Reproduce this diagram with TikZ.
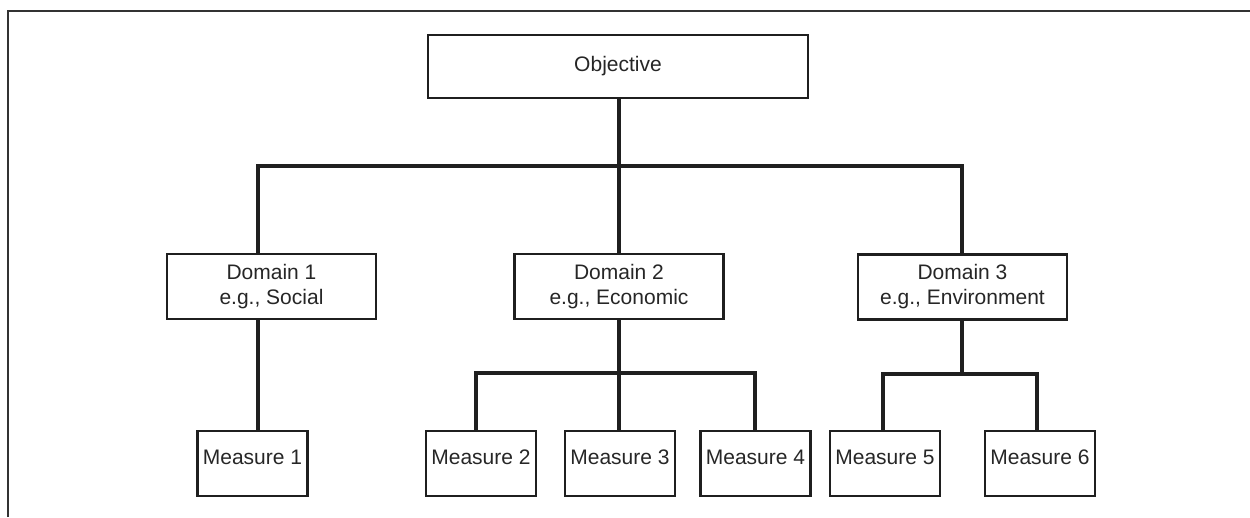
\documentclass[tikz,border=0pt]{standalone}
\usepackage{fontspec}
\setmainfont{Liberation Sans}
\begin{document}
\begin{tikzpicture}[x=1pt,y=-1pt,
  box/.style={draw=black!88,line width=2.2pt,rectangle,inner sep=0pt,
    font=\fontsize{21}{25}\selectfont,text=black!85},
  objbox/.style={box,minimum width=380pt,minimum height=63pt},
  dombox/.style={box,minimum width=209pt,minimum height=65pt,align=center},
  measbox/.style={box,minimum width=110pt,minimum height=65pt,text height=16pt,text depth=15pt},
  conn/.style={draw=black!88,line width=3.6pt,line cap=rect},
  frame/.style={draw=black!80,line width=2.8pt}]
\useasboundingbox (0,0) rectangle (1250,517);
% open frame: top and left edges only
\draw[frame] (8,517) -- (8,11) -- (1250,11);

% hierarchy boxes
\node[objbox] (obj) at (618,66.5) {Objective};
\node[dombox] (d1) at (271.5,286.5) {Domain 1\\e.g., Social};
\node[dombox] (d2) at (619,286.5) {Domain 2\\e.g., Economic};
\node[dombox] (d3) at (962.5,287) {Domain 3\\e.g., Environment};
\node[measbox] (m1) at (252.5,463.5) {Measure 1};
\node[measbox] (m2) at (481,463.5) {Measure 2};
\node[measbox] (m3) at (620,463.5) {Measure 3};
\node[measbox] (m4) at (755.5,463.5) {Measure 4};
\node[measbox] (m5) at (885,463.5) {Measure 5};
\node[measbox] (m6) at (1040,463.5) {Measure 6};

% bus points
\coordinate (topL) at (258,166);
\coordinate (topM) at (619,166);
\coordinate (topR) at (962,166);
\coordinate (b2L) at (476,373);
\coordinate (b2M) at (619,373);
\coordinate (b2R) at (755,373);
\coordinate (b3L) at (883,374);
\coordinate (b3M) at (962,374);
\coordinate (b3R) at (1037,374);

% objective to domains
\draw[conn] (obj.south -| topM) -- (topM);
\draw[conn] (d1.north -| topL) -- (topL) -- (topR) -- (d3.north -| topR);
\draw[conn] (topM) -- (d2.north -| topM);

% domain 1 to its measure
\draw[conn] (d1.south -| topL) -- (m1.north -| topL);

% domain 2 to its measures
\draw[conn] (d2.south -| b2M) -- (b2M);
\draw[conn] (m2.north -| b2L) -- (b2L) -- (b2R) -- (m4.north -| b2R);
\draw[conn] (b2M) -- (m3.north -| b2M);

% domain 3 to its measures
\draw[conn] (d3.south -| b3M) -- (b3M);
\draw[conn] (m5.north -| b3L) -- (b3L) -- (b3R) -- (m6.north -| b3R);
\end{tikzpicture}
\end{document}
